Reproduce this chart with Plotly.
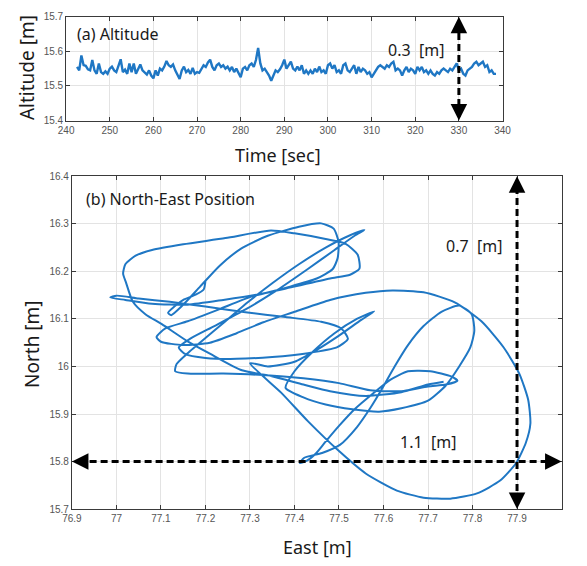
import numpy as np
import plotly.graph_objects as go

# ---------------- data ----------------
# altitude samples, every 0.5 s starting at t = 242.5 s
t_start = 242.5
t_step = 0.5
altitude = [
    15.555, 15.545, 15.588, 15.560, 15.558, 15.548, 15.545, 15.575, 15.545, 15.535,
    15.565, 15.540, 15.535, 15.542, 15.535, 15.550, 15.556, 15.545, 15.540, 15.558,
    15.577, 15.540, 15.547, 15.535, 15.565, 15.540, 15.565, 15.535, 15.550, 15.562,
    15.545, 15.540, 15.533, 15.545, 15.530, 15.522, 15.545, 15.530, 15.550, 15.545,
    15.556, 15.572, 15.560, 15.555, 15.562, 15.545, 15.530, 15.520, 15.545, 15.556,
    15.540, 15.546, 15.535, 15.552, 15.535, 15.540, 15.538, 15.550, 15.560, 15.555,
    15.568, 15.576, 15.555, 15.545, 15.560, 15.565, 15.555, 15.560, 15.550, 15.556,
    15.545, 15.555, 15.540, 15.550, 15.535, 15.525, 15.550, 15.555, 15.545, 15.560,
    15.565, 15.555, 15.575, 15.610, 15.565, 15.545, 15.550, 15.540, 15.530, 15.515,
    15.530, 15.545, 15.540, 15.548, 15.560, 15.576, 15.550, 15.560, 15.570, 15.550,
    15.545, 15.556, 15.545, 15.560, 15.535, 15.545, 15.535, 15.545, 15.535, 15.550,
    15.540, 15.556, 15.540, 15.545, 15.535, 15.560, 15.565, 15.550, 15.560, 15.540,
    15.545, 15.535, 15.560, 15.565, 15.545, 15.540, 15.550, 15.560, 15.535, 15.555,
    15.540, 15.550, 15.545, 15.535, 15.540, 15.525, 15.535, 15.545, 15.555, 15.560,
    15.555, 15.550, 15.560, 15.555, 15.565, 15.570, 15.545, 15.550, 15.545, 15.530,
    15.545, 15.555, 15.540, 15.550, 15.545, 15.535, 15.555, 15.545, 15.555, 15.540,
    15.545, 15.535, 15.545, 15.535, 15.530, 15.540, 15.535, 15.545, 15.550, 15.545,
    15.540, 15.550, 15.545, 15.555, 15.565, 15.545, 15.550, 15.535, 15.530, 15.545,
    15.550, 15.555, 15.565, 15.570, 15.560, 15.565, 15.570, 15.555, 15.560, 15.540,
    15.545, 15.535, 15.535,
]
time_s = t_start + t_step * np.arange(len(altitude))

# horizontal track (East [m], North [m])
track = [
    # hook and upper loop
    (77.200, 16.180), (77.196, 16.162), (77.178, 16.151), (77.152, 16.141), (77.130, 16.126),
    (77.116, 16.113), (77.123, 16.108), (77.148, 16.128), (77.188, 16.168), (77.232, 16.212),
    (77.280, 16.248), (77.340, 16.275), (77.410, 16.294), (77.460, 16.301), (77.488, 16.290),
    (77.499, 16.262), (77.497, 16.228), (77.486, 16.205),
    # sweep west to the left spike and back
    (77.450, 16.185), (77.390, 16.168), (77.320, 16.152), (77.240, 16.140), (77.160, 16.130),
    (77.080, 16.132), (77.020, 16.140), (76.986, 16.145), (77.000, 16.149), (77.050, 16.143),
    (77.120, 16.136), (77.200, 16.126), (77.290, 16.114), (77.380, 16.104), (77.460, 16.094),
    # lower-left loop, then up to the north-east spike
    (77.505, 16.080), (77.520, 16.058), (77.495, 16.040), (77.430, 16.028), (77.350, 16.020),
    (77.270, 16.016), (77.200, 16.018), (77.155, 16.026), (77.140, 16.040), (77.165, 16.058),
    (77.220, 16.085), (77.290, 16.120), (77.360, 16.160), (77.430, 16.205), (77.490, 16.245),
    (77.535, 16.275), (77.557, 16.287),
    # long diagonal back to the south-west
    (77.525, 16.276), (77.470, 16.250), (77.410, 16.215), (77.350, 16.175), (77.295, 16.135),
    (77.245, 16.095), (77.200, 16.060), (77.160, 16.028), (77.135, 16.005), (77.132, 15.990),
    (77.160, 15.985), (77.240, 15.985), (77.330, 15.982), (77.420, 15.975), (77.500, 15.965),
    (77.570, 15.950),
    # eastern inner loop and the small southern loop
    (77.640, 15.948), (77.700, 15.958), (77.740, 15.962), (77.766, 15.970), (77.752, 15.979),
    (77.705, 15.990), (77.655, 15.990), (77.615, 15.972), (77.575, 15.942), (77.535, 15.910),
    (77.500, 15.875), (77.470, 15.842), (77.448, 15.817), (77.428, 15.802), (77.412, 15.797),
    (77.422, 15.808), (77.462, 15.818), (77.502, 15.835), (77.540, 15.872), (77.570, 15.912),
    (77.596, 15.952), (77.625, 16.000), (77.655, 16.045), (77.690, 16.085), (77.730, 16.115),
    (77.770, 16.128), (77.798, 16.110), (77.804, 16.075), (77.795, 16.040), (77.770, 16.000),
    (77.740, 15.960), (77.700, 15.928), (77.640, 15.912), (77.590, 15.905), (77.530, 15.910),
    (77.470, 15.920), (77.420, 15.935), (77.380, 15.955),
    # narrow excursion to the north-east and back
    (77.400, 15.990), (77.440, 16.030), (77.490, 16.070), (77.540, 16.100), (77.579, 16.116),
    (77.550, 16.098), (77.500, 16.065), (77.450, 16.035), (77.400, 16.010), (77.340, 16.000),
    (77.300, 16.007),
    # large outer loop
    (77.370, 15.945), (77.430, 15.885), (77.500, 15.822), (77.560, 15.775), (77.630, 15.739),
    (77.690, 15.724), (77.750, 15.722), (77.810, 15.733), (77.862, 15.760), (77.898, 15.797),
    (77.920, 15.840), (77.930, 15.880), (77.925, 15.930), (77.905, 15.985), (77.870, 16.040),
    (77.820, 16.095), (77.760, 16.135), (77.690, 16.156), (77.620, 16.160), (77.560, 16.155),
    (77.480, 16.140), (77.400, 16.115), (77.330, 16.093), (77.270, 16.070), (77.210, 16.050),
    (77.150, 16.045), (77.100, 16.052), (77.090, 16.062), (77.110, 16.080), (77.160, 16.095),
    # upper-middle loop and the wide western loop
    (77.230, 16.120), (77.303, 16.147), (77.400, 16.168), (77.480, 16.185), (77.525, 16.193),
    (77.546, 16.206), (77.542, 16.235), (77.515, 16.258), (77.470, 16.268), (77.400, 16.280),
    (77.347, 16.286), (77.245, 16.270), (77.150, 16.257), (77.080, 16.245), (77.043, 16.233),
    (77.020, 16.215), (77.015, 16.195), (77.021, 16.178), (77.037, 16.136), (77.065, 16.110),
    (77.102, 16.089), (77.158, 16.054), (77.210, 16.027), (77.282, 15.992), (77.347, 15.980),
    (77.420, 15.962), (77.480, 15.948), (77.560, 15.938), (77.640, 15.946), (77.700, 15.962),
    (77.735, 15.968),
]
east = [p[0] for p in track]
north = [p[1] for p in track]

alt_ticks = [15.4, 15.5, 15.6, 15.7]
time_ticks = list(range(240, 341, 10))
east_ticks = [76.9, 77.0, 77.1, 77.2, 77.3, 77.4, 77.5, 77.6, 77.7, 77.8, 77.9]
east_labels = ["76.9", "77", "77.1", "77.2", "77.3", "77.4", "77.5", "77.6", "77.7", "77.8", "77.9"]
north_ticks = [15.7, 15.8, 15.9, 16.0, 16.1, 16.2, 16.3, 16.4]
north_labels = ["15.7", "15.8", "15.9", "16", "16.1", "16.2", "16.3", "16.4"]

alt_span_time = 330
ne_span_east = 77.9
ne_span_north = 15.8

# ---------------- styling ----------------
W, H = 587, 566
BLUE = "#1f77c4"
TEXT_FONT = "Noto Sans, Open Sans, sans-serif"
TICK_FONT = dict(family="Liberation Sans, Arial, sans-serif", size=10, color="#555555")

fig = go.Figure()

fig.add_trace(go.Scatter(x=time_s, y=altitude, mode="lines",
                         line=dict(color=BLUE, width=2.4),
                         xaxis="x", yaxis="y", showlegend=False, hoverinfo="skip"))
fig.add_trace(go.Scatter(x=east, y=north, mode="lines",
                         line=dict(color=BLUE, width=2.0, shape="spline", smoothing=0.6),
                         xaxis="x2", yaxis="y2", showlegend=False, hoverinfo="skip"))

# dashed range bars
dash_line = dict(color="black", width=3, dash="7px,4px")
fig.add_trace(go.Scatter(x=[alt_span_time, alt_span_time], y=[15.41, 15.69], mode="lines",
                         line=dash_line, xaxis="x", yaxis="y", showlegend=False, hoverinfo="skip"))
fig.add_trace(go.Scatter(x=[ne_span_east, ne_span_east], y=[15.715, 16.385], mode="lines",
                         line=dash_line, xaxis="x2", yaxis="y2", showlegend=False, hoverinfo="skip"))
fig.add_trace(go.Scatter(x=[76.915, 77.985], y=[ne_span_north, ne_span_north], mode="lines",
                         line=dash_line, xaxis="x2", yaxis="y2", showlegend=False, hoverinfo="skip"))

def px_dom(a, b, total):
    return [a / total, b / total]

# plot areas in pixels
top_x = px_dom(58, 509, W)
top_y = [1 - 117 / H, 1 - 11 / H]
bot_x = px_dom(64, 570, W)
bot_y = [1 - 514 / H, 1 - 174 / H]

axis_common = dict(showline=True, linecolor="#3a3a3a", linewidth=1, mirror="ticks",
                   ticks="inside", ticklen=4, tickcolor="#3a3a3a",
                   showgrid=True, gridcolor="#e3e3e3", gridwidth=1,
                   zeroline=False, tickfont=TICK_FONT)

fig.update_layout(
    width=W, height=H,
    margin=dict(l=0, r=0, t=0, b=0),
    paper_bgcolor="white", plot_bgcolor="white",
    xaxis=dict(domain=top_x, anchor="y", range=[240, 340], tickvals=time_ticks, **axis_common),
    yaxis=dict(domain=top_y, anchor="x", range=[15.4, 15.7], tickvals=alt_ticks,
               ticktext=[f"{v:.1f}" for v in alt_ticks], **axis_common),
    xaxis2=dict(domain=bot_x, anchor="y2", range=[76.9, 78.0], tickvals=east_ticks,
                ticktext=east_labels, **axis_common),
    yaxis2=dict(domain=bot_y, anchor="x2", range=[15.7, 16.4], tickvals=north_ticks,
                ticktext=north_labels, **axis_common),
)

# arrow heads on the range bars
def head(x, y, ax, ay, xref, yref):
    fig.add_annotation(x=x, y=y, ax=ax, ay=ay, xref=xref, yref=yref, axref=xref, ayref=yref,
                       text="", showarrow=True, arrowhead=2, arrowsize=1.1, arrowwidth=3,
                       arrowcolor="black", standoff=0, startstandoff=0)

head(alt_span_time, 15.7, alt_span_time, 15.675, "x", "y")
head(alt_span_time, 15.4, alt_span_time, 15.425, "x", "y")
head(ne_span_east, 16.4, ne_span_east, 16.37, "x2", "y2")
head(ne_span_east, 15.7, ne_span_east, 15.73, "x2", "y2")
head(76.9, ne_span_north, 76.93, ne_span_north, "x2", "y2")
head(78.0, ne_span_north, 77.97, ne_span_north, "x2", "y2")

def label(text, x, y, size, xanchor="center", angle=0):
    fig.add_annotation(x=x / W, y=1 - y / H, xref="paper", yref="paper", text=text,
                       showarrow=False, xanchor=xanchor, yanchor="middle", textangle=angle,
                       font=dict(family=TEXT_FONT, size=size, color="#1a1a1a"))

label("(a) Altitude", 67, 29, 16, xanchor="left")
label("0.3  [m]", 420, 45, 16)
label("(b) North-East Position", 76, 197, 16, xanchor="left")
label("0.7  [m]", 480, 245, 16)
label("1.1  [m]", 432, 445, 16)
label("Time [sec]", 277, 152, 18)
label("Altitude [m]", 17, 63, 19, angle=-90)
label("East [m]", 318, 553, 18)
label("North [m]", 22, 345, 19, angle=-90)

fig.write_html("out.html")
